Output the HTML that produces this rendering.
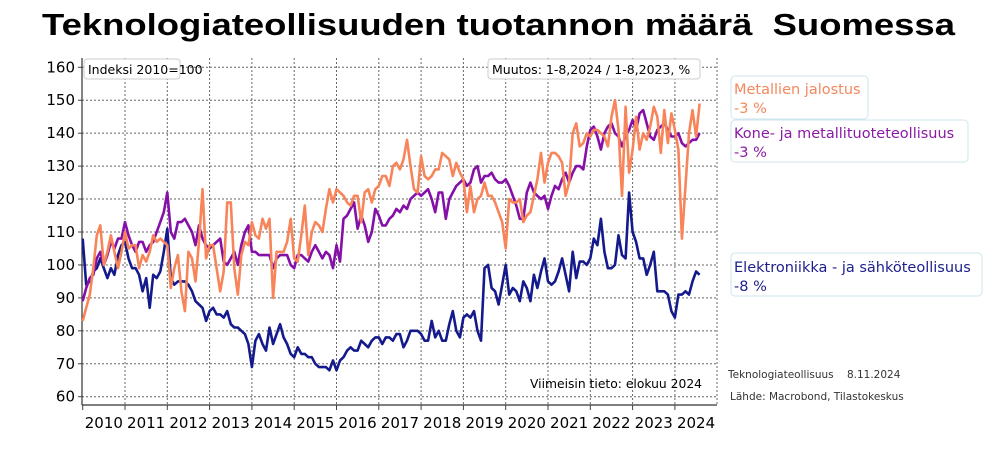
<!DOCTYPE html>
<html><head><meta charset="utf-8"><style>
body{margin:0;background:#fff;width:1000px;height:451px;overflow:hidden;font-family:"Liberation Sans",sans-serif}
svg text{font-family:"DejaVu Sans","Liberation Sans",sans-serif}
</style></head><body>
<svg id="chart" width="1000" height="451" viewBox="0 0 1000 451">
<text x="42" y="35" font-weight="bold" font-size="31" textLength="913" lengthAdjust="spacingAndGlyphs" style="font-family:'Liberation Sans',sans-serif" xml:space="preserve">Teknologiateollisuuden tuotannon määrä  Suomessa</text>
<g id="grid"></g>
<g id="axes"></g>
<g id="series"></g>
<g>
<rect x="84" y="59" width="96" height="20" rx="3" fill="#fff" stroke="#ccc"/>
<text x="88" y="74" font-size="12.5">Indeksi 2010=100</text></g>
<g>
<rect x="488" y="59" width="212" height="20" rx="3" fill="#fff" stroke="#ccc"/>
<text x="492" y="74" font-size="12.5">Muutos: 1-8,2024 / 1-8,2023, %</text></g>
<text x="530" y="388" font-size="12.5" textLength="172" lengthAdjust="spacingAndGlyphs">Viimeisin tieto: elokuu 2024</text>
<g>
<rect x="731" y="76" width="137" height="43" rx="4" fill="#fff" stroke="#cfe6ee"/>
<text x="734" y="94" font-size="14.5" fill="#f4875c">Metallien jalostus</text>
<text x="734" y="113" font-size="14.5" fill="#f4875c">-3 %</text></g>
<g>
<rect x="731" y="120" width="237" height="42" rx="4" fill="#fff" stroke="#cfe6ee"/>
<text x="734" y="138" font-size="14.5" fill="#8a1aa6">Kone- ja metallituoteteollisuus</text>
<text x="734" y="157" font-size="14.5" fill="#8a1aa6">-3 %</text></g>
<g>
<rect x="731" y="253" width="251" height="43" rx="4" fill="#fff" stroke="#cfe6ee"/>
<text x="734" y="272" font-size="14.5" fill="#1c1f8a">Elektroniikka - ja sähköteollisuus</text>
<text x="734" y="291" font-size="14.5" fill="#1c1f8a">-8 %</text></g>
<text x="728" y="378" font-size="10.5" fill="#333" xml:space="preserve">Teknologiateollisuus    8.11.2024</text>
<text x="730" y="400" font-size="10.5" fill="#333">Lähde: Macrobond, Tilastokeskus</text>
</svg>
<script>
const years=[2010,2011,2012,2013,2014,2015,2016,2017,2018,2019,2020,2021,2022,2023,2024];
const yTicks=[60,70,80,90,100,110,120,130,140,150,160];
const metalRefining=[83,87,91,99,109,112,100,104,109,104,99,104,110,105,106,106,99,103,101,104,109,107,108,107,106,93,99,103,92,86,104,102,95,107,123,102,106,106,99,92,98,119,119,99,91,103,107,106,113,109,108,114,111,114,90,104,104,104,107,114,102,101,109,118,103,110,113,112,110,117,123,119,123,122,121,119,118,121,121,113,122,123,119,123,124,127,127,124,130,131,
129,132,138,130,123,122,133,127,126,127,129,129,134,133,132,127,131,128,126,116,124,116,120,121,125,121,121,119,116,113,105,120,119,119,120,113,115,116,121,126,134,125,131,134,134,133,131,121,125,140,143,136,137,140,139,141,141,140,139,136,145,150,141,121,148,128,135,145,135,140,138,142,148,145,134,147,137,146,141,135,108,124,140,147,139,149];
const machinery=[89,93,96,97,102,104,100,103,107,105,108,108,113,109,106,104,107,107,104,106,107,110,113,116,122,110,108,113,113,114,112,110,106,112,108,106,105,106,107,108,101,100,102,104,100,106,110,112,104,104,103,103,103,103,99,102,103,103,103,100,99,103,103,102,101,104,106,104,102,104,103,99,106,101,114,115,117,119,111,115,112,107,110,117,115,112,112,114,115,117,
116,118,117,120,121,122,121,122,123,120,116,122,122,114,120,122,124,125,126,124,125,129,130,125,127,127,128,126,125,125,126,124,121,118,114,114,122,125,122,121,120,121,117,121,124,123,126,128,125,128,130,130,129,136,141,142,139,135,140,142,143,140,139,136,139,141,144,141,146,147,143,139,138,141,142,143,141,139,139,140,137,136,137,138,138,140];
const electronics=[108,94,95,98,99,102,99,96,99,97,103,106,107,102,99,99,97,92,96,87,97,96,98,104,111,96,94,95,95,95,94,92,89,88,87,83,86,87,85,85,84,86,82,81,81,80,79,76,69,77,79,76,74,81,76,79,82,78,76,73,72,75,73,73,72,72,70,69,69,69,68,71,68,71,72,74,75,74,74,77,76,75,77,78,78,76,78,78,77,79,
79,75,77,80,80,80,79,77,77,83,78,80,77,77,82,86,80,78,84,85,84,86,80,77,99,100,93,92,88,94,100,91,93,92,89,95,93,89,97,93,98,102,95,94,95,98,102,97,92,104,96,101,101,100,102,108,106,114,104,99,99,100,109,103,102,122,110,107,102,102,97,100,104,92,92,92,91,86,84,91,91,92,91,95,98,97];

const NS="http://www.w3.org/2000/svg";
const X0=82.7, YW=42.3, YV0=60, YP0=396.7, PPU=3.294, L=82, R=717, T=58, B=405;
const xScale=m=>X0+m*YW/12;
const yScale=v=>YP0-(v-YV0)*PPU;
function mk(tag,attrs,parent){const e=document.createElementNS(NS,tag);for(const k in attrs)e.setAttribute(k,attrs[k]);parent.appendChild(e);return e;}
const grid=document.getElementById('grid'), axes=document.getElementById('axes'), series=document.getElementById('series');
yTicks.forEach(v=>{
  const gl=mk('line',{x1:L,x2:R,y1:yScale(v),y2:yScale(v),stroke:'#666','stroke-width':1,'stroke-dasharray':'2,2'},grid);
  
  
  const tk=mk('line',{x1:L-4,x2:L,y1:yScale(v),y2:yScale(v),stroke:'#444'},axes);
  
  
  const t=mk('text',{x:L-7,y:yScale(v)+5,'text-anchor':'end','font-size':15},axes);
  t.textContent=v;
  
  
});
years.forEach((yr,i)=>{
  const x=xScale(i*12);
  if(i>0){
    const gl=mk('line',{x1:x,x2:x,y1:T,y2:B,stroke:'#666','stroke-width':1,'stroke-dasharray':'2,2'},grid);
    
    
  }
  const tk=mk('line',{x1:x,x2:x,y1:B,y2:B+5,stroke:'#444'},axes);
  
  
  const t=mk('text',{x:x+YW/2,y:428,'text-anchor':'middle','font-size':15},axes);
  t.textContent=yr;
  
  
});
const rg=mk('line',{x1:R,x2:R,y1:T,y2:B,stroke:'#666','stroke-dasharray':'2,2'},grid);


const ya=mk('line',{x1:L,x2:L,y1:T,y2:B,stroke:'#333','stroke-width':1.2},axes);


const xa=mk('line',{x1:L,x2:R,y1:B,y2:B,stroke:'#333','stroke-width':1.2},axes);


function line(data,color,name){
  const d=data.map((v,i)=>(i?'L':'M')+xScale(i).toFixed(1)+','+yScale(v).toFixed(1)).join('');
  const p=mk('path',{d:d,fill:'none',stroke:color,'stroke-width':2.6,'stroke-linejoin':'round'},series);
  
  
}
line(electronics,'#141a8c','electronics-line');
line(machinery,'#8510a8','machinery-line');
line(metalRefining,'#f8845a','metal-refining-line');
</script>
</body></html>
